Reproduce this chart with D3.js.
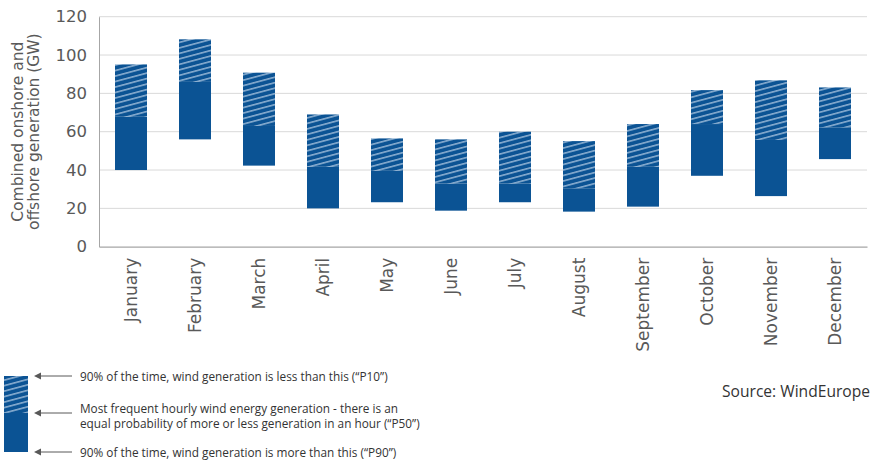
<!DOCTYPE html>
<html lang="en">
<head>
<meta charset="UTF-8">
<title>Wind generation by month</title>
<script src="https://cdn.jsdelivr.net/npm/d3@7"></script>
<style>
  body { margin: 0; background: #fff; }
  svg { display: block; }
  .axis text { font-family: "DejaVu Sans", sans-serif; fill: #595959; }
</style>
</head>
<body>
<svg id="chart" width="873" height="464"></svg>
<script>
// monthly data, GW
var months = ["January", "February", "March", "April", "May", "June",
              "July", "August", "September", "October", "November", "December"];
var p90 = [40, 56, 42.3, 20, 23.2, 18.8, 23.2, 18.3, 20.9, 37, 26.4, 45.7];
var p50 = [67.8, 86, 63, 41.7, 39.6, 33, 33, 30.5, 41.7, 64, 55.7, 62.3];
var p10 = [95.1, 108.2, 90.8, 69, 56.5, 56, 60, 55.1, 64, 81.7, 86.8, 83.1];
var yTicks = [0, 20, 40, 60, 80, 100, 120];

var legendLines = [
  ["90% of the time, wind generation is less than this (\u201cP10\u201d)"],
  ["Most frequent hourly wind energy generation - there is an",
   "equal probability of more or less generation in an hour (\u201cP50\u201d)"],
  ["90% of the time, wind generation is more than this (\u201cP90\u201d)"]
];

var svg = d3.select("#chart"),
    blue = "#0b5394",
    plotL = 99, plotR = 867, plotT = 16.7, plotB = 246.7;

var x = d3.scaleBand().domain(months).range([plotL, plotR])
    .paddingInner(0.5).paddingOuter(0.25);
var y = d3.scaleLinear().domain([0, 120]).range([plotB, plotT]);

// hatch pattern
var defs = svg.append("defs");
var pat = defs.append("pattern")
    .attr("id", "hatch")
    .attr("patternUnits", "userSpaceOnUse")
    .attr("width", 12).attr("height", 5.3)
    .attr("patternTransform", "rotate(-15)");
pat.append("rect").attr("width", 12).attr("height", 5.3).attr("fill", blue);
pat.append("line")
    .attr("x1", 0).attr("x2", 12).attr("y1", 2.6).attr("y2", 2.6)
    .attr("stroke", "#d4e3f3").attr("stroke-width", 1);

// gridlines
svg.append("g").selectAll("line").data(yTicks.slice(1)).join("line")
    .attr("x1", plotL).attr("x2", plotR)
    .attr("y1", d => y(d)).attr("y2", d => y(d))
    .attr("stroke", "#d9d9d9").attr("stroke-width", 1);

// y axis
var yAxis = svg.append("g").attr("class", "axis")
    .attr("transform", "translate(" + plotL + ",0)")
    .call(d3.axisLeft(y).tickValues(yTicks).tickSize(0).tickPadding(12));
yAxis.select(".domain").attr("stroke", "#a6a6a6");
yAxis.selectAll("text").style("font-size", "16.5px");

// x axis
var xAxis = svg.append("g").attr("class", "axis")
    .attr("transform", "translate(0," + plotB + ")")
    .call(d3.axisBottom(x).tickSize(0).tickSizeOuter(0));
xAxis.select(".domain").attr("stroke", "#a6a6a6").attr("stroke-width", 1.3);
xAxis.selectAll("text")
    .style("font-size", "17px")
    .attr("text-anchor", "end")
    .attr("transform", "rotate(-90)")
    .attr("x", -11).attr("y", 0).attr("dy", "0.35em");

// y title
svg.append("text")
    .attr("transform", "translate(24," + (plotT + plotB) / 2 + ") rotate(-90)")
    .attr("text-anchor", "middle")
    .style("font-family", "'DejaVu Sans', sans-serif").style("font-size", "15.5px")
    .attr("fill", "#595959")
    .selectAll("tspan").data(["Combined onshore and", "offshore generation (GW)"]).join("tspan")
    .attr("x", 0).attr("dy", (d, i) => i ? 16 : -1.5)
    .text(d => d);

// bars
var bars = svg.append("g");
bars.selectAll(".low").data(months).join("rect")
    .attr("x", d => x(d)).attr("width", x.bandwidth())
    .attr("y", (d, i) => y(p50[i]))
    .attr("height", (d, i) => y(p90[i]) - y(p50[i]))
    .attr("fill", blue);
bars.selectAll(".high").data(months).join("rect")
    .attr("x", d => x(d)).attr("width", x.bandwidth())
    .attr("y", (d, i) => y(p10[i]))
    .attr("height", (d, i) => y(p50[i]) - y(p10[i]))
    .attr("fill", "url(#hatch)");

// legend
var lg = svg.append("g");
lg.append("rect").attr("x", 4).attr("y", 413).attr("width", 24).attr("height", 39).attr("fill", blue);
lg.append("rect").attr("x", 4).attr("y", 376).attr("width", 24).attr("height", 37).attr("fill", "url(#hatch)");
var arrowY = [376, 413, 452];
arrowY.forEach(function (ay) {
  lg.append("line").attr("x1", 72).attr("x2", 36).attr("y1", ay).attr("y2", ay)
    .attr("stroke", "#595959").attr("stroke-width", 1);
  lg.append("path").attr("d", "M34," + ay + "l7,-3.5l0,7z").attr("fill", "#595959");
});
var textY = [[377], [409, 424], [453]];
legendLines.forEach(function (lines, i) {
  lines.forEach(function (t, j) {
    lg.append("text").attr("x", 80).attr("y", textY[i][j]).attr("dy", "0.35em")
      .style("font-family", "'Open Sans', sans-serif").style("font-size", "11.8px")
      .attr("fill", "#333").text(t);
  });
});

svg.append("text").attr("x", 870).attr("y", 392).attr("dy", "0.35em")
    .attr("text-anchor", "end")
    .style("font-family", "'Open Sans', sans-serif").style("font-size", "15.6px")
    .attr("fill", "#333").text("Source: WindEurope");
</script>
</body>
</html>
